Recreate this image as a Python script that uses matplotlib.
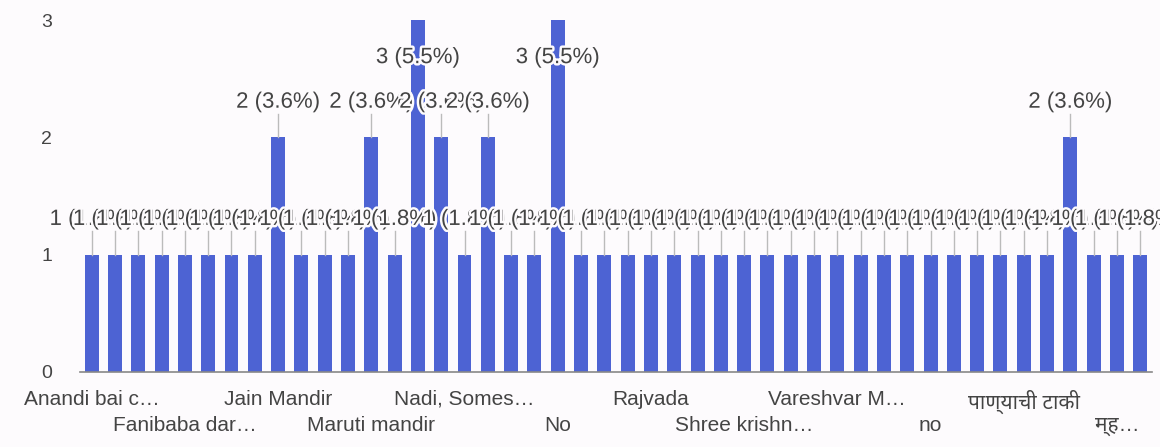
import matplotlib
matplotlib.use("Agg")
import matplotlib.pyplot as plt
import matplotlib.patheffects as pe

# response counts per answer, sorted as in the form summary (46 answers)
counts = [1, 1, 1, 1, 1, 1, 1, 1, 2, 1,
          1, 1, 2, 1, 3, 2, 1, 2, 1, 1,
          3, 1, 1, 1, 1, 1, 1, 1, 1, 1,
          1, 1, 1, 1, 1, 1, 1, 1, 1, 1,
          1, 1, 2, 1, 1, 1]

# only every 4th answer gets a visible tick label
tick_step = 4
tick_labels = ["Anandi bai c…", "Fanibaba dar…", "Jain Mandir", "Maruti mandir",
               "Nadi, Somes…", "No", "Rajvada", "Shree krishn…",
               "Vareshvar M…", "no", "पाण्याची टाकी", "म्ह…"]
y_ticks = [0, 1, 2, 3]

bar_color = "#4d63d3"
text_color = "#444444"
bg = "#fdfbfd"

plt.rcParams['font.family'] = ['Liberation Sans', 'Noto Sans', 'DejaVu Sans']

fig = plt.figure(figsize=(11.6, 4.47), dpi=100, facecolor=bg)
ax = fig.add_axes([0.069, 0.168, 0.924, 0.787])
ax.set_facecolor(bg)

total = sum(counts)
xs = list(range(len(counts)))
ax.bar(xs, counts, width=0.6, color=bar_color, zorder=2)

ax.set_xlim(-0.5, len(counts) - 0.5)
ax.set_ylim(0, 3)

# leader lines + value labels (labels drawn with a thin halo, like the original)
halo = [pe.withStroke(linewidth=3.5, foreground=bg)]
for x, v in zip(xs, counts):
    label = "{} ({:.1f}%)".format(v, v / total * 100)
    if v + 0.3 < 3:
        ax.plot([x, x], [v, v + 0.2], color="#bbbbbb", lw=1, zorder=3)
        ty = v + 0.3
    else:
        ty = v - 0.32
    ax.text(x, ty, label, ha="center", va="center", fontsize=16,
            color=text_color, zorder=5, path_effects=halo)

# staggered x tick labels on two rows
tick_pos = xs[::tick_step]
ax.set_xticks(tick_pos)
ax.set_xticklabels([t if i % 2 == 0 else "\n" + t for i, t in enumerate(tick_labels)],
                   fontsize=15, color=text_color, linespacing=1.45)
ax.tick_params(axis="x", length=0, pad=13)

ax.set_yticks(y_ticks)
ax.set_yticklabels([str(t) for t in y_ticks], fontsize=14, color=text_color)
ax.tick_params(axis="y", length=0, pad=20)

for s in ["top", "right", "left"]:
    ax.spines[s].set_visible(False)
ax.spines["bottom"].set_color("#888888")
ax.spines["bottom"].set_linewidth(1.2)

plt.savefig("out.png", dpi=100, facecolor=bg)
